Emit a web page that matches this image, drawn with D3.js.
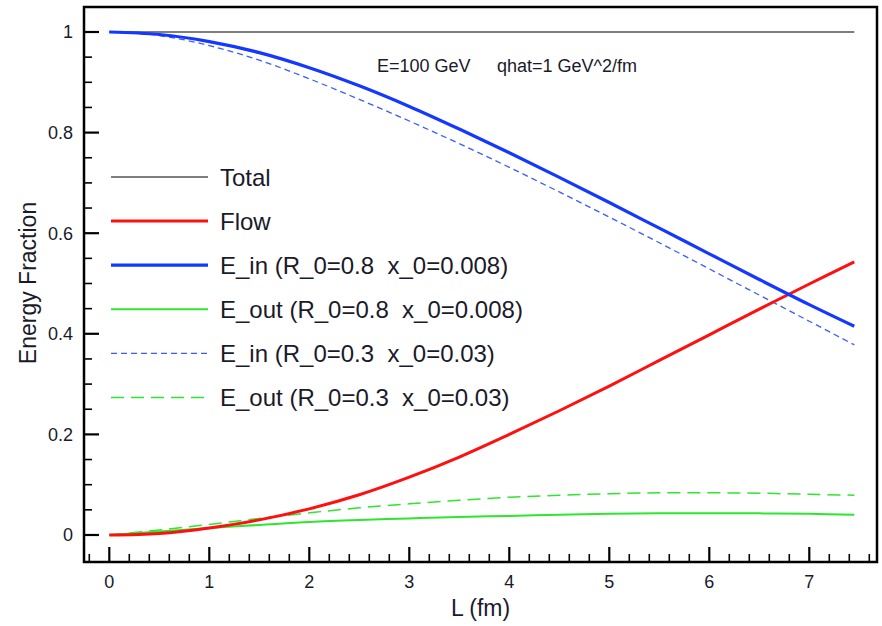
<!DOCTYPE html>
<html>
<head>
<meta charset="utf-8">
<script src="https://cdn.jsdelivr.net/npm/d3@7"></script>
<style>
  html, body { margin: 0; padding: 0; background: #fff; }
  svg { display: block; font-family: "Liberation Sans", Arial, Helvetica, sans-serif; }
  text { white-space: pre; }
</style>
</head>
<body>
<svg id="chart" width="882" height="626"></svg>
<script>
// Path length L (fm) sampled for every curve
const lengths = [0, 0.5, 1, 1.5, 2, 2.5, 3, 3.5, 4, 4.5, 5, 5.5, 6, 6.5, 7, 7.45];

// Energy fractions per series
const total     = [1, 1, 1, 1, 1, 1, 1, 1, 1, 1, 1, 1, 1, 1, 1, 1];
const flow      = [0, 0.003, 0.014, 0.030, 0.052, 0.080, 0.115, 0.155, 0.200, 0.247, 0.296, 0.347, 0.398, 0.449, 0.499, 0.543];
const eInWide   = [1, 0.995, 0.981, 0.959, 0.929, 0.893, 0.852, 0.807, 0.760, 0.711, 0.661, 0.610, 0.559, 0.508, 0.458, 0.415];
const eOutWide  = [0, 0.007, 0.014, 0.020, 0.026, 0.030, 0.033, 0.036, 0.038, 0.040, 0.042, 0.043, 0.043, 0.043, 0.042, 0.040];
const eInNarrow = [1, 0.993, 0.973, 0.944, 0.907, 0.866, 0.823, 0.778, 0.731, 0.682, 0.632, 0.581, 0.529, 0.477, 0.425, 0.378];
const eOutNarrow= [0, 0.010, 0.021, 0.033, 0.044, 0.054, 0.062, 0.069, 0.075, 0.079, 0.082, 0.084, 0.084, 0.083, 0.081, 0.079];

const seriesNames = [
  "Total",
  "Flow",
  "E_in (R_0=0.8  x_0=0.008)",
  "E_out (R_0=0.8  x_0=0.008)",
  "E_in (R_0=0.3  x_0=0.03)",
  "E_out (R_0=0.3  x_0=0.03)"
];

const xTickLabels = ["0", "1", "2", "3", "4", "5", "6", "7"];
const yTickLabels = ["0", "0.2", "0.4", "0.6", "0.8", "1"];

const annotationLeft = "E=100 GeV";
const annotationRight = "qhat=1 GeV^2/fm";

// Line styling for each series, in legend order
const styles = [
  { values: total,      color: "#000000", width: 1.2, dash: null },
  { values: flow,       color: "#ff1010", width: 3,   dash: null },
  { values: eInWide,    color: "#1438ff", width: 3.2, dash: null },
  { values: eOutWide,   color: "#2ee62e", width: 2,   dash: null },
  { values: eInNarrow,  color: "#3d5cff", width: 1.3, dash: "6,4" },
  { values: eOutNarrow, color: "#2ee62e", width: 1.5, dash: "13,7" }
];

const svg = d3.select("#chart");

// Frame of the plotting area
const frame = { left: 84, top: 7, right: 877, bottom: 562 };

const x = d3.scaleLinear().domain([-0.253, 7.677]).range([frame.left, frame.right]);
const y = d3.scaleLinear().domain([-0.0537, 1.0497]).range([frame.bottom, frame.top]);

// Curves (drawn first so the frame sits above them)
const line = d3.line()
  .x((d, i) => x(lengths[i]))
  .y(d => y(d))
  .curve(d3.curveCatmullRom.alpha(0.5));

const drawOrder = [0, 4, 5, 3, 1, 2];
const curves = svg.append("g");
drawOrder.forEach(k => {
  const s = styles[k];
  curves.append("path")
    .datum(s.values)
    .attr("d", line)
    .attr("fill", "none")
    .attr("stroke", s.color)
    .attr("stroke-width", s.width)
    .attr("stroke-dasharray", s.dash)
    .attr("stroke-linejoin", "round");
});

// Bottom axis: inward ticks, labels drawn below the frame
const xMajor = d3.range(0, 8, 1);
const xMinor = d3.range(-0.2, 7.61, 0.2).filter(v => Math.abs(v - Math.round(v)) > 1e-6);
const bottomAxis = svg.append("g");
bottomAxis.selectAll("line.minor").data(xMinor).join("line")
  .attr("x1", d => x(d)).attr("x2", d => x(d))
  .attr("y1", frame.bottom).attr("y2", frame.bottom - 8)
  .attr("stroke", "#000").attr("stroke-width", 1.6);
bottomAxis.selectAll("line.major").data(xMajor).join("line")
  .attr("x1", d => x(d)).attr("x2", d => x(d))
  .attr("y1", frame.bottom).attr("y2", frame.bottom - 15)
  .attr("stroke", "#000").attr("stroke-width", 2.2);
bottomAxis.selectAll("text").data(xMajor).join("text")
  .attr("x", d => x(d)).attr("y", 588)
  .attr("text-anchor", "middle")
  .attr("font-size", 18).attr("fill", "#1a1a2a")
  .text((d, i) => xTickLabels[i]);

// Left axis
const yMajor = d3.range(0, 1.01, 0.2);
const yMinor = d3.range(0.05, 1.04, 0.05).filter(v => Math.abs(v * 5 - Math.round(v * 5)) > 1e-6);
const leftAxis = svg.append("g");
leftAxis.selectAll("line.minor").data(yMinor).join("line")
  .attr("x1", frame.left).attr("x2", frame.left + 8)
  .attr("y1", d => y(d)).attr("y2", d => y(d))
  .attr("stroke", "#000").attr("stroke-width", 1.6);
leftAxis.selectAll("line.major").data(yMajor).join("line")
  .attr("x1", frame.left).attr("x2", frame.left + 15)
  .attr("y1", d => y(d)).attr("y2", d => y(d))
  .attr("stroke", "#000").attr("stroke-width", 2.2);
leftAxis.selectAll("text").data(yMajor).join("text")
  .attr("x", 73).attr("y", d => y(d))
  .attr("dy", "0.36em")
  .attr("text-anchor", "end")
  .attr("font-size", 18).attr("fill", "#1a1a2a")
  .text((d, i) => yTickLabels[i]);

// Frame
svg.append("rect")
  .attr("x", frame.left).attr("y", frame.top)
  .attr("width", frame.right - frame.left)
  .attr("height", frame.bottom - frame.top)
  .attr("fill", "none")
  .attr("stroke", "#000")
  .attr("stroke-width", 2.5);

// Axis titles
svg.append("text")
  .attr("x", (frame.left + frame.right) / 2).attr("y", 616)
  .attr("text-anchor", "middle")
  .attr("font-size", 23).attr("fill", "#1a1a2a")
  .text("L (fm)");

svg.append("text")
  .attr("transform", "translate(36,283) rotate(-90)")
  .attr("text-anchor", "middle")
  .attr("font-size", 23).attr("fill", "#1a1a2a")
  .text("Energy Fraction");

// Run parameters
svg.append("text").attr("x", 377).attr("y", 72)
  .attr("font-size", 18).attr("fill", "#1a1a2a").text(annotationLeft);
svg.append("text").attr("x", 497).attr("y", 72)
  .attr("font-size", 18).attr("fill", "#1a1a2a").text(annotationRight);

// Legend
const legend = svg.append("g");
const legendRowY = i => 177 + i * 44.1;
styles.forEach((s, i) => {
  legend.append("line")
    .attr("x1", 111).attr("x2", 208)
    .attr("y1", legendRowY(i)).attr("y2", legendRowY(i))
    .attr("stroke", s.color)
    .attr("stroke-width", s.width)
    .attr("stroke-dasharray", s.dash);
  legend.append("text")
    .attr("x", 220).attr("y", legendRowY(i))
    .attr("dy", "0.36em")
    .attr("font-size", 24).attr("fill", "#1a1a2a")
    .text(seriesNames[i]);
});
</script>
</body>
</html>
